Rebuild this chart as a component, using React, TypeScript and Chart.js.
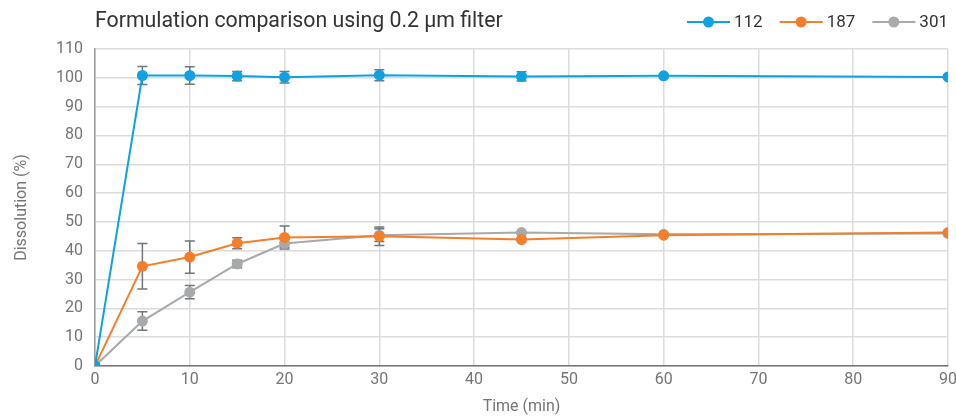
import React, { useEffect, useRef } from "react";
import { Chart, registerables } from "chart.js";

Chart.register(...registerables);

const times = [0, 5, 10, 15, 20, 30, 45, 60, 90];
const seriesNames = ["112", "187", "301"];
const values112 = [0, 100.8, 100.8, 100.6, 100.2, 100.9, 100.5, 100.7, 100.3];
const values187 = [0, 34.6, 37.8, 42.6, 44.6, 45.0, 43.9, 45.4, 46.3];
const values301 = [0, 15.6, 25.6, 35.4, 42.5, 45.4, 46.3, 45.7, 46.0];
const errors112 = [0, 3.1, 3.0, 1.6, 2.0, 1.9, 1.6, 0, 0];
const errors187 = [0, 7.9, 5.6, 1.9, 4.0, 3.2, 0, 0, 0];
const errors301 = [0, 3.2, 2.3, 1.3, 1.4, 2.2, 0, 0, 0];
const colors = ["#0fa1e0", "#f47e2a", "#a7a9ab"];
const titleText = "Formulation comparison using 0.2 µm filter";
const xTitle = "Time (min)";
const yTitle = "Dissolution (%)";

const allValues = [values112, values187, values301];
const allErrors = [errors112, errors187, errors301];

const FONT = "Roboto, 'Noto Sans', sans-serif";

const errorBarPlugin = {
  id: "errorBars",
  beforeDatasetsDraw(chart: any) {
    const ctx = chart.ctx;
    const xs = chart.scales.x;
    const ys = chart.scales.y;
    ctx.save();
    ctx.strokeStyle = "#6f767d";
    ctx.lineWidth = 1.5;
    allErrors.forEach((errs, si) => {
      errs.forEach((e, i) => {
        if (!e) return;
        const x = xs.getPixelForValue(times[i]);
        const yt = ys.getPixelForValue(allValues[si][i] + e);
        const yb = ys.getPixelForValue(allValues[si][i] - e);
        ctx.beginPath();
        ctx.moveTo(x, yt);
        ctx.lineTo(x, yb);
        ctx.moveTo(x - 5, yt);
        ctx.lineTo(x + 5, yt);
        ctx.moveTo(x - 5, yb);
        ctx.lineTo(x + 5, yb);
        ctx.stroke();
      });
    });
    ctx.restore();
  },
};

const headerPlugin = {
  id: "header",
  afterDraw(chart: any) {
    const ctx = chart.ctx;
    const area = chart.chartArea;
    ctx.save();
    ctx.textBaseline = "middle";
    ctx.fillStyle = "#333333";
    ctx.font = `21.3px ${FONT}`;
    ctx.textAlign = "left";
    ctx.fillText(titleText, area.left, 22);
    // legend, right aligned
    ctx.font = `17px ${FONT}`;
    const lineLen = 43;
    const gap = 4;
    const itemGap = 17;
    const widths = seriesNames.map((n) => ctx.measureText(n).width);
    let total = 0;
    widths.forEach((w, i) => {
      total += lineLen + gap + w + (i < widths.length - 1 ? itemGap : 0);
    });
    let x = chart.width - 8 - total;
    const y = 22;
    seriesNames.forEach((n, i) => {
      ctx.strokeStyle = colors[i];
      ctx.lineWidth = 2;
      ctx.beginPath();
      ctx.moveTo(x, y);
      ctx.lineTo(x + lineLen, y);
      ctx.stroke();
      ctx.fillStyle = colors[i];
      ctx.beginPath();
      ctx.arc(x + lineLen / 2, y, 5.5, 0, Math.PI * 2);
      ctx.fill();
      ctx.fillStyle = "#333333";
      ctx.fillText(n, x + lineLen + gap, y + 1);
      x += lineLen + gap + widths[i] + itemGap;
    });
    ctx.restore();
  },
};

export default function App() {
  const ref = useRef<HTMLCanvasElement | null>(null);
  useEffect(() => {
    document.body.style.margin = "0";
    const canvas = ref.current!;
    const chart = new Chart(canvas, {
      type: "line",
      data: {
        datasets: allValues.map((vals, si) => ({
          label: seriesNames[si],
          data: vals.map((v, i) => ({ x: times[i], y: v })),
          borderColor: colors[si],
          backgroundColor: colors[si],
          borderWidth: 2,
          pointRadius: 5.5,
          pointHoverRadius: 5.5,
          pointBorderWidth: 0,
          tension: 0,
        })),
      },
      options: {
        animation: false,
        responsive: false,
        maintainAspectRatio: false,
        layout: { padding: { top: 49, right: 8, left: 12, bottom: 0 } },
        plugins: {
          legend: { display: false },
          title: { display: false },
          tooltip: { enabled: false },
        },
        scales: {
          x: {
            type: "linear",
            min: 0,
            max: 90,
            ticks: {
              stepSize: 10,
              color: "#757575",
              font: { family: FONT, size: 16 },
              padding: 4,
            },
            grid: { color: "#dcdcdc", lineWidth: 1.5, drawTicks: false },
            border: { color: "#757575", width: 1.5 },
            title: {
              display: true,
              text: xTitle,
              color: "#757575",
              font: { family: FONT, size: 16 },
              padding: { top: 0, bottom: 0 },
            },
            afterFit(s: any) {
              s.height = 51;
              s.paddingLeft = 0;
              s.paddingRight = 0;
            },
          },
          y: {
            min: 0,
            max: 110,
            ticks: {
              stepSize: 10,
              color: "#757575",
              font: { family: FONT, size: 16 },
              padding: 12,
            },
            grid: { color: "#dcdcdc", lineWidth: 1.5, drawTicks: false },
            border: { color: "#9a9a9a", width: 1.5 },
            title: {
              display: true,
              text: yTitle,
              color: "#757575",
              font: { family: FONT, size: 16 },
              padding: { top: 0, bottom: 4 },
            },
            afterFit(s: any) {
              s.width = 83;
              s.paddingTop = 0;
              s.paddingBottom = 0;
            },
          },
        },
      },
      plugins: [errorBarPlugin, headerPlugin],
    } as any);
    return () => chart.destroy();
  }, []);
  return <canvas ref={ref} width={956} height={417} style={{ display: "block" }} />;
}
